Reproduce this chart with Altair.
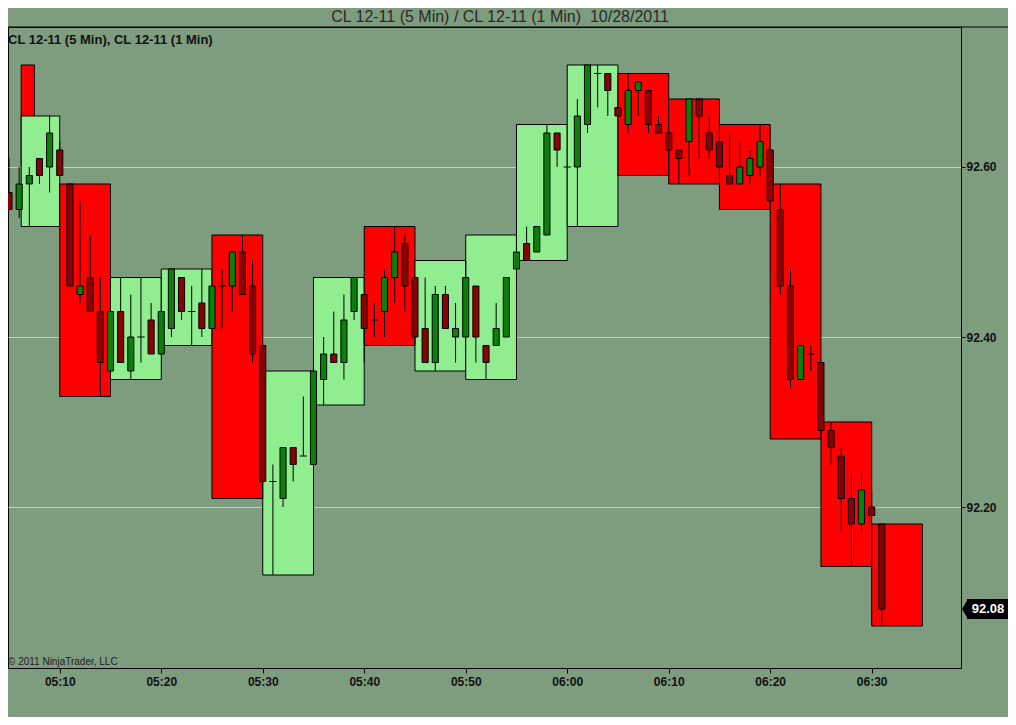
import json
import altair as alt
import pandas as pd

# ---- 1-minute bars (minutes after 05:00) ----
minutes = list(range(5, 92))
opens = [92.57, 92.55, 92.58, 92.61, 92.60, 92.62, 92.58, 92.45, 92.47, 92.43,
         92.36, 92.43, 92.36, 92.40, 92.42, 92.38, 92.41, 92.47, 92.43, 92.44,
         92.41, 92.46, 92.46, 92.50, 92.46, 92.39, 92.23, 92.21, 92.27, 92.26,
         92.25, 92.35, 92.38, 92.37, 92.43, 92.45, 92.42, 92.43, 92.47, 92.51,
         92.47, 92.41, 92.37, 92.45, 92.40, 92.40, 92.46, 92.39, 92.39, 92.40,
         92.48, 92.51, 92.50, 92.52, 92.64, 92.60, 92.60, 92.65, 92.71, 92.71,
         92.67, 92.65, 92.69, 92.69, 92.65, 92.64, 92.62, 92.63, 92.68, 92.64,
         92.63, 92.59, 92.58, 92.59, 92.60, 92.62, 92.55, 92.46, 92.35, 92.38,
         92.37, 92.29, 92.26, 92.21, 92.18, 92.20, 92.18]
highs = [92.61, 92.60, 92.60, 92.61, 92.66, 92.63, 92.58, 92.56, 92.52, 92.47,
         92.43, 92.47, 92.45, 92.47, 92.44, 92.43, 92.48, 92.47, 92.46, 92.48,
         92.46, 92.48, 92.50, 92.52, 92.49, 92.39, 92.25, 92.27, 92.27, 92.33,
         92.36, 92.40, 92.43, 92.45, 92.47, 92.45, 92.44, 92.48, 92.53, 92.52,
         92.47, 92.47, 92.46, 92.46, 92.44, 92.49, 92.46, 92.39, 92.44, 92.47,
         92.52, 92.53, 92.53, 92.65, 92.64, 92.60, 92.68, 92.72, 92.72, 92.71,
         92.67, 92.71, 92.70, 92.69, 92.66, 92.64, 92.62, 92.68, 92.68, 92.66,
         92.64, 92.64, 92.63, 92.62, 92.65, 92.62, 92.58, 92.48, 92.39, 92.39,
         92.37, 92.30, 92.27, 92.24, 92.24, 92.22, 92.18]
lows = [92.55, 92.54, 92.53, 92.58, 92.57, 92.59, 92.46, 92.44, 92.43, 92.33,
        92.36, 92.37, 92.35, 92.37, 92.38, 92.38, 92.40, 92.42, 92.39, 92.40,
        92.41, 92.41, 92.43, 92.45, 92.37, 92.21, 92.12, 92.20, 92.23, 92.26,
        92.25, 92.32, 92.37, 92.35, 92.42, 92.37, 92.40, 92.40, 92.44, 92.43,
        92.39, 92.37, 92.36, 92.41, 92.37, 92.40, 92.37, 92.35, 92.39, 92.40,
        92.46, 92.49, 92.50, 92.52, 92.60, 92.60, 92.53, 92.64, 92.67, 92.66,
        92.66, 92.64, 92.66, 92.64, 92.64, 92.59, 92.58, 92.59, 92.61, 92.61,
        92.60, 92.58, 92.58, 92.58, 92.59, 92.55, 92.45, 92.34, 92.35, 92.36,
        92.28, 92.25, 92.17, 92.13, 92.17, 92.19, 92.06]
closes = [92.55, 92.58, 92.59, 92.59, 92.64, 92.59, 92.46, 92.46, 92.43, 92.37,
          92.43, 92.37, 92.40, 92.40, 92.38, 92.43, 92.48, 92.43, 92.43, 92.41,
          92.46, 92.46, 92.50, 92.45, 92.38, 92.23, 92.23, 92.27, 92.25, 92.26,
          92.36, 92.38, 92.37, 92.42, 92.47, 92.41, 92.42, 92.47, 92.50, 92.46,
          92.40, 92.37, 92.45, 92.41, 92.41, 92.47, 92.40, 92.37, 92.41, 92.47,
          92.50, 92.49, 92.53, 92.64, 92.62, 92.60, 92.66, 92.72, 92.71, 92.69,
          92.66, 92.69, 92.70, 92.65, 92.64, 92.62, 92.61, 92.68, 92.66, 92.62,
          92.60, 92.58, 92.60, 92.61, 92.63, 92.56, 92.46, 92.35, 92.39, 92.38,
          92.29, 92.27, 92.21, 92.18, 92.22, 92.19, 92.08]

# ---- 5-minute boxes ----
box_start = [6.2, 6.2, 10, 15, 20, 25, 30, 35, 40, 45, 50, 55, 60, 65, 70, 75, 80, 85, 90]
box_end = [7.5, 10, 15, 20, 25, 30, 35, 40, 45, 50, 55, 60, 65, 70, 75, 80, 85, 90, 95]
box_high = [92.72, 92.66, 92.58, 92.47, 92.48, 92.52, 92.36, 92.47, 92.53, 92.49,
            92.52, 92.65, 92.72, 92.71, 92.68, 92.65, 92.58, 92.30, 92.18]
box_low = [92.60, 92.53, 92.33, 92.35, 92.39, 92.21, 92.12, 92.32, 92.39, 92.36,
           92.35, 92.49, 92.53, 92.59, 92.58, 92.55, 92.28, 92.13, 92.06]
box_dir = ["down", "up", "down", "up", "up", "down", "up", "up", "down", "up",
           "up", "up", "up", "down", "down", "down", "down", "down", "down"]

tick_values = [10, 20, 30, 40, 50, 60, 70, 80, 90]
tick_labels = ["05:10", "05:20", "05:30", "05:40", "05:50", "06:00", "06:10", "06:20", "06:30"]
price_ticks = [92.2, 92.4, 92.6]
last_price = 92.08

title_text = "CL 12-11 (5 Min) / CL 12-11 (1 Min)\u00a0 10/28/2011"
series_text = "CL 12-11 (5 Min), CL 12-11 (1 Min)"
copyright_text = "\u00a9 2011 NinjaTrader, LLC"

FONT = "Liberation Sans"
W, H = 953, 641
XDOM = [4.9, 98.8]
YDOM = [92.0106, 92.7647]

candles = pd.DataFrame({"m": minutes, "o": opens, "h": highs, "l": lows, "c": closes})
candles["dir"] = ["bull" if c > o else ("bear" if c < o else "flat") for o, c in zip(opens, closes)]
candles["x0"] = candles["m"] - 0.3
candles["x1"] = candles["m"] + 0.3
candles["d0"] = candles["m"] - 0.36
candles["d1"] = candles["m"] + 0.36

boxes = pd.DataFrame({"s": box_start, "e": box_end, "hi": box_high, "lo": box_low, "dir": box_dir})

xs = alt.Scale(domain=XDOM, nice=False, zero=False)
ys = alt.Scale(domain=YDOM, nice=False, zero=False)
fill_scale = alt.Scale(domain=["up", "down", "bull", "bear"],
                       range=["#90ee90", "#ff0000", "#0a800a", "#8b0000"])

label_expr = json.dumps(tick_labels) + "[round(datum.value / 10) - 1]"

x_axis = alt.Axis(values=tick_values, labelExpr=label_expr, title=None, grid=False,
                  domainColor="black", tickColor="black", tickSize=5,
                  labelFont=FONT, labelFontSize=12, labelFontWeight="bold",
                  labelColor="#111", labelPadding=3)
y_axis = alt.Axis(values=price_ticks, format=".2f", orient="right", title=None,
                  grid=True, gridColor="#bfd2bd", gridWidth=1,
                  domainColor="black", tickColor="black", tickSize=4,
                  labelFont=FONT, labelFontSize=12, labelFontWeight="bold",
                  labelColor="#111", labelPadding=1)

box_layer = alt.Chart(boxes).mark_rect(stroke="black", strokeWidth=1).encode(
    x=alt.X("s:Q", scale=xs, axis=x_axis),
    x2="e:Q",
    y=alt.Y("hi:Q", scale=ys, axis=y_axis),
    y2="lo:Q",
    fill=alt.Fill("dir:N", scale=fill_scale, legend=None),
)

wick_layer = alt.Chart(candles).mark_rule(color="black", strokeWidth=1).encode(
    x=alt.X("m:Q", scale=xs, axis=x_axis),
    y=alt.Y("h:Q", scale=ys, axis=y_axis),
    y2="l:Q",
)

body_layer = alt.Chart(candles).transform_filter("datum.dir != 'flat'").mark_rect(
    stroke="black", strokeWidth=1).encode(
    x=alt.X("x0:Q", scale=xs, axis=x_axis),
    x2="x1:Q",
    y=alt.Y("o:Q", scale=ys, axis=y_axis),
    y2="c:Q",
    fill=alt.Fill("dir:N", scale=fill_scale, legend=None),
)

doji_layer = alt.Chart(candles).transform_filter("datum.dir == 'flat'").mark_rule(
    color="black", strokeWidth=1).encode(
    x=alt.X("d0:Q", scale=xs, axis=x_axis),
    x2="d1:Q",
    y=alt.Y("c:Q", scale=ys, axis=y_axis),
)

one = pd.DataFrame({"p": [last_price], "p0": [last_price - 0.0118], "p1": [last_price + 0.0118]})

title_layer = alt.Chart(one).mark_text(font=FONT, fontSize=16, color="#2a2a2a",
                                       align="center", baseline="middle").encode(
    x=alt.value(492), y=alt.value(-10), text=alt.value(title_text))

top_rule = alt.Chart(one).mark_rule(color="black", strokeWidth=1).encode(
    x=alt.value(0), x2=alt.value(1000), y=alt.value(0))

series_layer = alt.Chart(one).mark_text(font=FONT, fontSize=13, fontWeight="bold", color="#111",
                                        align="left", baseline="middle").encode(
    x=alt.value(0), y=alt.value(13), text=alt.value(series_text))

copy_layer = alt.Chart(one).mark_text(font=FONT, fontSize=10, color="#222",
                                      align="left", baseline="middle").encode(
    x=alt.value(0), y=alt.value(635), text=alt.value(copyright_text))

marker_rect = alt.Chart(one).mark_rect(color="black").encode(
    x=alt.value(959), x2=alt.value(1000),
    y=alt.Y("p0:Q", scale=ys, axis=y_axis), y2="p1:Q")

marker_tri = alt.Chart(one).mark_point(
    shape="M -0.6 0 L 0 -1 L 0 1 Z", filled=True, color="black", opacity=1, size=400).encode(
    x=alt.value(960), y=alt.Y("p:Q", scale=ys, axis=y_axis))

marker_text = alt.Chart(one).mark_text(font=FONT, fontSize=13, fontWeight="bold", color="white",
                                       align="center", baseline="middle").encode(
    x=alt.value(980), y=alt.Y("p:Q", scale=ys, axis=y_axis), text=alt.value("92.08"))

chart = alt.layer(
    box_layer, wick_layer, body_layer, doji_layer,
    title_layer, top_rule, series_layer, copy_layer,
    marker_rect, marker_tri, marker_text,
).properties(
    width=W, height=H,
    autosize=alt.AutoSizeParams(type="none"),
    padding={"left": 0, "top": 19, "right": 47, "bottom": 49},
).configure(
    background="#7e9c7e",
).configure_view(
    stroke="black", strokeWidth=1, fill=None,
)

chart.save("out.html", embed_options={"renderer": "svg", "actions": False})
